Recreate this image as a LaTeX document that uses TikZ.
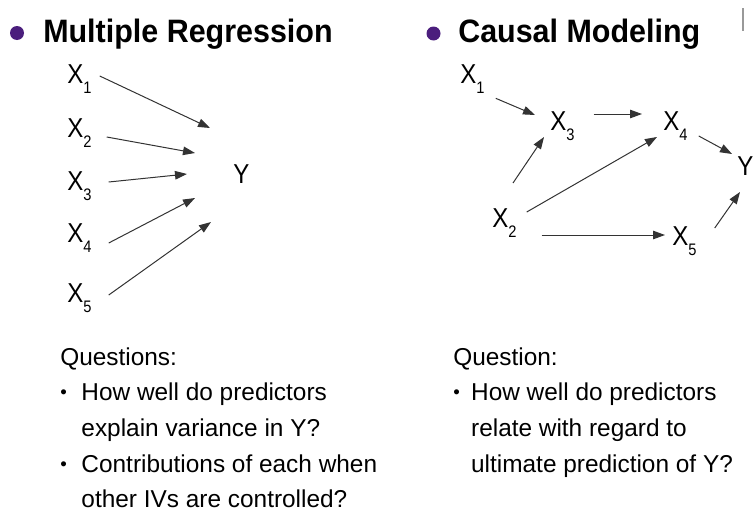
\documentclass[tikz,border=0pt]{standalone}
\usepackage{fontspec}
\setmainfont{Liberation Sans}
\newfontfamily\headfont[FakeStretch=0.94]{Liberation Sans}
\newfontfamily\varfont[FakeStretch=0.88]{Liberation Sans}
\usetikzlibrary{arrows.meta}
\definecolor{bulletpurple}{RGB}{75,30,125}
\newcommand{\xvar}[1]{X\raisebox{-8pt}{\fontsize{12.5}{14}\selectfont #1}}
\newcommand{\qbullet}{\raisebox{1.5pt}{\fontsize{14}{14}\selectfont\textbullet}}
\tikzset{
  head/.style={anchor=base west, inner sep=0pt, font=\headfont\bfseries\fontsize{24.3}{28}\selectfont},
  var/.style={anchor=base west, inner sep=0pt, font=\varfont\fontsize{20.5}{22}\selectfont},
  qtext/.style={anchor=base west, inner sep=0pt, font=\fontsize{18.3}{26.8}\selectfont},
  arr/.style={-{Triangle[length=9pt, width=6.4pt]}, line width=0.75pt, draw=black!80},
  dot/.style={fill=bulletpurple},
}

\begin{document}
\begin{tikzpicture}[x=0.75pt, y=-0.75pt]
  \useasboundingbox (0,0) rectangle (755,514);

  \fill[dot] (17,33) circle[radius=7];
  \fill[dot] (433.5,33.5) circle[radius=7];
  \node[head] (lefthead) at (43,42) {Multiple Regression};
  \node[head] (righthead) at (458,42) {Causal Modeling};
  \draw[black!40, line width=1.5pt] (742.7,8) -- (742.7,30.5);

  \node[var] (x1) at (67,83) {\xvar{1}};
  \node[var] (x2) at (67,137) {\xvar{2}};
  \node[var] (x3) at (67,190) {\xvar{3}};
  \node[var] (x4) at (67,242) {\xvar{4}};
  \node[var] (x5) at (67,302) {\xvar{5}};
  \node[var] (y) at (233,183) {Y};

  \draw[arr] ([shift={(8,-7)}]x1.base east) -- ([shift={(-23,-55)}]y.base west);
  \draw[arr] ([shift={(15,0)}]x2.base east) -- ([shift={(-38,-30)}]y.base west);
  \draw[arr] ([shift={(17,-8)}]x3.base east) -- ([shift={(-46,-9)}]y.base west);
  \draw[arr] ([shift={(17,1)}]x4.base east) -- ([shift={(-38,15)}]y.base west);
  \draw[arr] ([shift={(17,-7)}]x5.base east) -- ([shift={(-22,39)}]y.base west);

  \node[var] (c1) at (460,83.3) {\xvar{1}};
  \node[var] (c3) at (550,130) {\xvar{3}};
  \node[var] (c4) at (663,130) {\xvar{4}};
  \node[var] (c2) at (492,227) {\xvar{2}};
  \node[var] (c5) at (672,245) {\xvar{5}};
  \node[var] (cy) at (737,175) {Y};

  \draw[arr] ([shift={(11,15)}]c1.base east) -- ([shift={(-15,-15)}]c3.base west);
  \draw[arr] ([shift={(19,-16)}]c3.base east) -- ([shift={(-21,-16)}]c4.base west);
  \draw[arr] ([shift={(11,6)}]c4.base east) -- ([shift={(-5,-21)}]cy.base west);
  \draw[arr] ([shift={(21,-44)}]c2.base west) -- ([shift={(-6,7)}]c3.base west);
  \draw[arr] ([shift={(10,-15)}]c2.base east) -- ([shift={(-6,7)}]c4.base west);
  \draw[arr] ([shift={(25,8)}]c2.base east) -- ([shift={(-7,-10)}]c5.base west);
  \draw[arr] ([shift={(18,-17)}]c5.base east) -- ([shift={(3,17)}]cy.base west);

  \node[qtext] (qleft) at (60,365) {\begin{tabular}[t]{@{}l@{\hspace{11pt}}l@{}}
    \multicolumn{2}{@{}l@{}}{Questions:}\\
    \qbullet & How well do predictors\\
    & explain variance in Y?\\
    \qbullet & Contributions of each when\\
    & other IVs are controlled?
  \end{tabular}};
  \node[qtext] (qright) at (453,365) {\begin{tabular}[t]{@{}l@{\hspace{8.5pt}}l@{}}
    \multicolumn{2}{@{}l@{}}{Question:}\\
    \qbullet & How well do predictors\\
    & relate with regard to\\
    & ultimate prediction of Y?
  \end{tabular}};
\end{tikzpicture}
\end{document}
